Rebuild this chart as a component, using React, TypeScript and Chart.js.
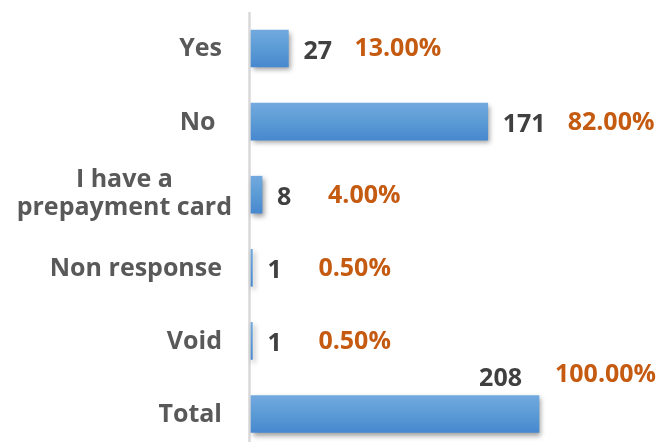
import React, { useEffect, useRef } from 'react';
import { Chart, registerables } from 'chart.js';

Chart.register(...registerables);

const categories: string[] = ['Yes', 'No ', 'I have a\nprepayment card', 'Non response', 'Void', 'Total'];
const counts: number[] = [27, 171, 8, 1, 1, 208];
const percents: number[] = [13, 82, 4, 0.5, 0.5, 100];

const FONT_FAMILY = '"Open Sans", "DejaVu Sans", sans-serif';
const FONT_SIZE = 25;
const CATEGORY_COLOR = '#595959';
const COUNT_COLOR = '#404040';
const PCT_COLOR = '#C55A11';
const W = 662;
const H = 442;
const BAR_THICKNESS = 37;

const axisLinePlugin = {
  id: 'axisLine',
  beforeDatasetsDraw(chart: any) {
    const ctx = chart.ctx;
    const x = chart.chartArea.left - 1.5;
    ctx.save();
    ctx.strokeStyle = '#d9d9d9';
    ctx.lineWidth = 2.5;
    ctx.beginPath();
    ctx.moveTo(x, 12);
    ctx.lineTo(x, H);
    ctx.stroke();
    ctx.restore();
  },
};

const shadowPlugin = {
  id: 'barShadow',
  beforeDatasetDraw(chart: any) {
    const ctx = chart.ctx;
    ctx.save();
    ctx.shadowColor = 'rgba(0,0,0,0.38)';
    ctx.shadowBlur = 5;
    ctx.shadowOffsetX = 2;
    ctx.shadowOffsetY = 3;
  },
  afterDatasetDraw(chart: any) {
    chart.ctx.restore();
  },
};

const categoryLabelPlugin = {
  id: 'categoryLabels',
  afterDraw(chart: any) {
    const ctx = chart.ctx;
    const ys = chart.scales.y;
    const rightEdge = chart.chartArea.left - 29;
    ctx.save();
    ctx.font = `bold ${FONT_SIZE}px ${FONT_FAMILY}`;
    ctx.fillStyle = CATEGORY_COLOR;
    ctx.textBaseline = 'alphabetic';
    categories.forEach((label, i) => {
      const yc = ys.getPixelForValue(i);
      const lines = label.split('\n');
      const capHalf = FONT_SIZE * 0.357;
      if (lines.length === 1) {
        ctx.textAlign = 'right';
        ctx.fillText(lines[0], rightEdge, yc + capHalf - 1);
      } else {
        const lineH = 28.5;
        const maxW = Math.max(...lines.map((l) => ctx.measureText(l).width));
        const cx = rightEdge + 10 - maxW / 2;
        ctx.textAlign = 'center';
        const first = yc - ((lines.length - 1) * lineH) / 2;
        lines.forEach((l, k) => {
          ctx.fillText(l, cx, first + k * lineH + capHalf - 2.6);
        });
      }
    });
    ctx.restore();
  },
};

const valueLabelPlugin = {
  id: 'valueLabels',
  afterDatasetsDraw(chart: any) {
    const ctx = chart.ctx;
    const meta = chart.getDatasetMeta(0);
    const capHalf = FONT_SIZE * 0.357;
    ctx.save();
    ctx.font = `bold ${FONT_SIZE}px ${FONT_FAMILY}`;
    ctx.textBaseline = 'alphabetic';
    meta.data.forEach((bar: any, i: number) => {
      const { x, y } = bar.getProps(['x', 'y'], true);
      const countText = String(counts[i]);
      const pctText = percents[i].toFixed(2) + '%';
      const cw = ctx.measureText(countText).width;
      const pw = ctx.measureText(pctText).width;
      let cx = x + 15;
      let cy = y + 1.5;
      let px = Math.max(cx + cw + 22, x + 66);
      let py = y - 1;
      if (px + pw > W) {
        // not enough room on the right: put labels above the bar end
        cx = x - 17 - cw;
        cy = y - 37;
        px = x + 16;
        py = y - 41;
      }
      ctx.textAlign = 'left';
      ctx.fillStyle = COUNT_COLOR;
      ctx.fillText(countText, cx, cy + capHalf);
      ctx.fillStyle = PCT_COLOR;
      ctx.fillText(pctText, px, py + capHalf);
    });
    ctx.restore();
  },
};

export default function App() {
  const canvasRef = useRef<HTMLCanvasElement | null>(null);

  useEffect(() => {
    const canvas = canvasRef.current;
    if (!canvas) return;
    const chart = new Chart(canvas, {
      type: 'bar',
      data: {
        labels: categories,
        datasets: [
          {
            label: 'Count',
            data: counts,
            barThickness: BAR_THICKNESS,
            clip: false as any,
            borderWidth: 0,
            backgroundColor: (c: any) => {
              const ch = c.chart;
              const ys = ch.scales && ch.scales.y;
              if (!ys || c.dataIndex === undefined) return '#5b9bd5';
              const yc = ys.getPixelForValue(c.dataIndex);
              if (!Number.isFinite(yc)) return '#5b9bd5';
              const g = ch.ctx.createLinearGradient(0, yc - BAR_THICKNESS / 2, 0, yc + BAR_THICKNESS / 2);
              g.addColorStop(0, '#72a9df');
              g.addColorStop(0.5, '#5b9bd5');
              g.addColorStop(1, '#4788cf');
              return g;
            },
          },
        ],
      },
      options: {
        indexAxis: 'y',
        responsive: false,
        animation: false,
        layout: { padding: { left: 251, right: 51, top: 48.5, bottom: 28 } },
        scales: {
          x: { display: false, min: 0, max: 260 },
          y: { display: false, offset: false, grid: { offset: false } },
        },
        plugins: {
          legend: { display: false },
          tooltip: { enabled: false },
        },
      },
      plugins: [axisLinePlugin, shadowPlugin, valueLabelPlugin, categoryLabelPlugin],
    } as any);
    return () => chart.destroy();
  }, []);

  return (
    <div style={{ position: 'absolute', left: 0, top: 0, width: W, height: H, background: '#fff' }}>
      <canvas ref={canvasRef} width={W} height={H} style={{ width: W, height: H, display: 'block' }} />
    </div>
  );
}
